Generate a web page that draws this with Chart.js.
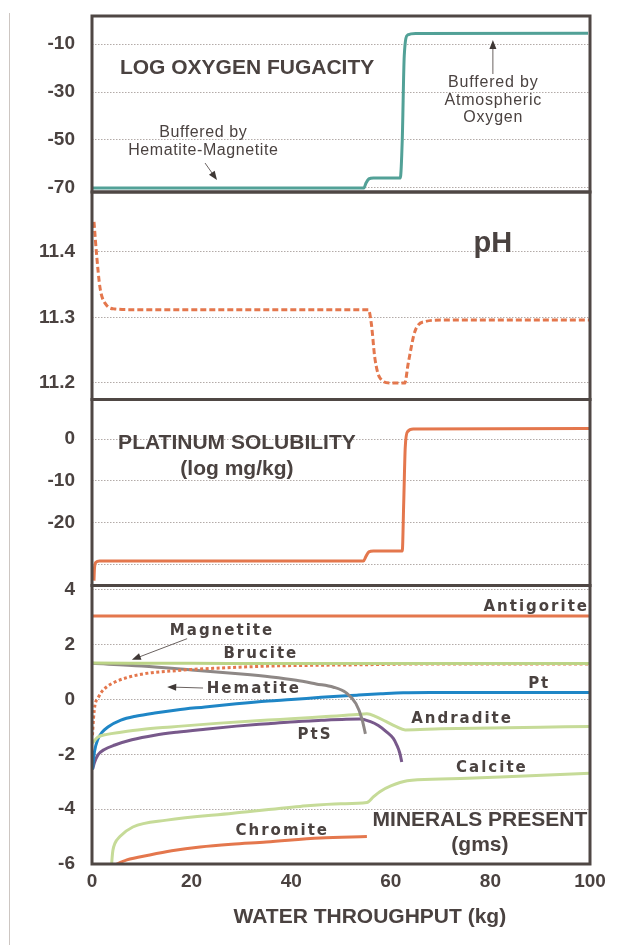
<!DOCTYPE html>
<html><head><meta charset="utf-8">
<script src="https://cdn.jsdelivr.net/npm/chart.js@4.4.1/dist/chart.umd.min.js"></script>
<style>
html,body{margin:0;padding:0;background:#fff;}
#wrap{position:relative;width:620px;height:945px;overflow:hidden;background:#fff;}
#wrap canvas{position:absolute;left:0;top:0;}
#vline{position:absolute;left:9px;top:13px;width:1px;height:932px;background:#cdc6c2;}
</style></head><body>
<div id="wrap"><div id="vline"></div>
<canvas id="c1" width="620" height="945"></canvas>
<canvas id="c2" width="620" height="945"></canvas>
<canvas id="c3" width="620" height="945"></canvas>
<canvas id="c4" width="620" height="945"></canvas>
</div>
<script>
// ---------------- DATA ----------------
const xTicks = [0, 20, 40, 60, 80, 100];

// Panel 1: log oxygen fugacity
const fugTicks = [-70, -50, -30, -10];
const fugX = [0, 54.6, 55.0, 55.6, 56.5, 61.9, 62.3, 62.7, 63.4, 65, 99.6];
const fugY = [-70, -70, -68, -66.2, -65.8, -65.8, -50, -15, -6.2, -5.6, -5.5];

// Panel 2: pH
const phTicks = [11.2, 11.3, 11.4];
const phX = [0.4, 0.9, 1.6, 2.9, 4.6, 8, 55.5, 56.1, 56.8, 57.8, 59.8, 62.8, 63.5, 64.9, 67, 70, 100];
const phY = [11.446, 11.398, 11.346, 11.319, 11.313, 11.312, 11.312, 11.29, 11.238, 11.208, 11.2, 11.2, 11.23, 11.28, 11.294, 11.296, 11.296];

// Panel 3: platinum solubility (log mg/kg)
const ptSolTicks = [-30, -20, -10, 0];
const ptSolX = [0.4, 0.5, 0.8, 1.5, 54.5, 55.0, 55.6, 56.5, 62.3, 62.6, 62.9, 63.4, 64.5, 100];
const ptSolY = [-34, -31, -29.6, -29.3, -29.3, -28.2, -27.1, -26.9, -26.9, -15, -2, 1.8, 2.4, 2.5];

// Panel 4: minerals present (gms)
const minTicks = [-6, -4, -2, 0, 2, 4];
const antigoriteX = [0, 100];
const antigoriteY = [3.05, 3.05];
const bruciteX = [0, 20, 50, 100];
const bruciteY = [1.33, 1.32, 1.31, 1.31];
const hematiteX = [0.1, 0.3, 0.6, 1.2, 1.9, 3, 4.6, 7, 9.3, 12, 15.9, 20, 26, 35.4, 45, 55, 66.5, 80, 100];
const hematiteY = [-1.3, -0.7, -0.2, 0.05, 0.27, 0.47, 0.64, 0.8, 0.9, 0.98, 1.04, 1.1, 1.15, 1.22, 1.25, 1.27, 1.3, 1.3, 1.3];
const magnetiteX = [0, 10, 20, 30, 36, 41, 45, 48.5, 51, 53, 54.2, 54.9];
const magnetiteY = [1.32, 1.22, 1.08, 0.93, 0.82, 0.7, 0.57, 0.45, 0.25, -0.15, -0.7, -1.25];
const ptX = [0.1, 0.5, 1.2, 2, 3.2, 5.8, 9, 12.6, 17, 22.7, 29, 35.4, 40, 46, 53.2, 58, 62.5, 67.9, 80, 100];
const ptY = [-2.55, -1.9, -1.44, -1.2, -1.0, -0.75, -0.6, -0.49, -0.38, -0.27, -0.15, -0.05, 0.0, 0.08, 0.16, 0.21, 0.25, 0.26, 0.26, 0.26];
const andraditeX = [0.1, 1.2, 3, 5.8, 10, 15.9, 25, 35.4, 40, 47, 53.2, 55.2, 57, 59, 61, 62.9, 70, 80, 90, 100];
const andraditeY = [-1.58, -1.37, -1.27, -1.19, -1.09, -1.0, -0.87, -0.75, -0.7, -0.62, -0.55, -0.52, -0.62, -0.8, -0.98, -1.11, -1.07, -1.04, -1.01, -0.98];
const ptsX = [0.1, 0.5, 1.2, 2.5, 4.6, 8, 12.6, 17, 22.7, 29, 35.4, 39.8, 46, 51, 53.8, 55.8, 57.5, 59.2, 60.5, 61.2, 61.8, 62.2];
const ptsY = [-2.55, -2.3, -2.02, -1.82, -1.66, -1.47, -1.3, -1.19, -1.08, -0.97, -0.88, -0.82, -0.76, -0.72, -0.71, -0.8, -0.95, -1.19, -1.42, -1.66, -1.95, -2.28];
const calciteX = [3.95, 4.05, 4.2, 4.6, 5.6, 8.2, 15, 28.3, 41.8, 50, 55.2, 56.5, 57.8, 60, 63.3, 70, 82, 100];
const calciteY = [-6.0, -5.75, -5.5, -5.25, -5.0, -4.65, -4.4, -4.15, -3.9, -3.8, -3.76, -3.55, -3.36, -3.15, -2.96, -2.9, -2.83, -2.69];
const chromiteX = [4.2, 7, 11.6, 16, 21.7, 28, 35, 45.8, 55.2];
const chromiteY = [-6.07, -5.85, -5.67, -5.52, -5.38, -5.28, -5.2, -5.05, -5.0];

// ---------------- STYLE ----------------
const TEXT = '#4a4240';
const FRAME = '#4f4744';
const GRID = '#b3aba8';
const TEAL = '#52a197';
const ORANGE = '#e4774d';
const BLUE = '#1f86c6';
const PURPLE = '#78598b';
const GREY = '#8e8886';
const GREEN = '#c6db98';
const GREEN2 = '#bcd486';
const SANS = '"Liberation Sans", Arial, sans-serif';
const WIDE = '"DejaVu Sans", Verdana, sans-serif';

const pts = (xs, ys) => xs.map((x, i) => ({x: x, y: ys[i]}));
function line(label, xs, ys, color, extra) {
  return Object.assign({
    label: label, data: pts(xs, ys), borderColor: color, backgroundColor: color,
    borderWidth: 3, pointRadius: 0, fill: false, cubicInterpolationMode: 'monotone',
    borderCapStyle: 'butt'
  }, extra || {});
}

const annot = {
  id: 'annot',
  afterDatasetsDraw(chart) {
    const a = chart.chartArea, ctx = chart.ctx;
    ctx.save();
    ctx.strokeStyle = FRAME; ctx.lineWidth = 3;
    ctx.strokeRect(a.left, a.top, a.right - a.left, a.bottom - a.top);
    ctx.restore();
  },
  afterDraw(chart, args, opts) {
    const ctx = chart.ctx, xs = chart.scales.x, ys = chart.scales.y;
    (opts.arrows || []).forEach(ar => {
      const x1 = xs.getPixelForValue(ar[0]), y1 = ys.getPixelForValue(ar[1]);
      const x2 = xs.getPixelForValue(ar[2]), y2 = ys.getPixelForValue(ar[3]);
      const ang = Math.atan2(y2 - y1, x2 - x1), hl = 9, hw = 3.5;
      ctx.save();
      ctx.strokeStyle = '#6a6260'; ctx.fillStyle = '#3f3836'; ctx.lineWidth = 1;
      ctx.beginPath(); ctx.moveTo(x1, y1);
      ctx.lineTo(x2 - Math.cos(ang) * hl * 0.8, y2 - Math.sin(ang) * hl * 0.8); ctx.stroke();
      ctx.beginPath(); ctx.moveTo(x2, y2);
      ctx.lineTo(x2 - Math.cos(ang) * hl - Math.sin(ang) * hw, y2 - Math.sin(ang) * hl + Math.cos(ang) * hw);
      ctx.lineTo(x2 - Math.cos(ang) * hl + Math.sin(ang) * hw, y2 - Math.sin(ang) * hl - Math.cos(ang) * hw);
      ctx.closePath(); ctx.fill();
      ctx.restore();
    });
    (opts.labels || []).forEach(l => {
      ctx.save();
      ctx.font = l.font; ctx.fillStyle = TEXT;
      ctx.textAlign = l.align || 'center'; ctx.textBaseline = 'middle';
      if ('letterSpacing' in ctx) ctx.letterSpacing = (l.ls || 0) + 'px';
      const px = xs.getPixelForValue(l.x);
      const py = l.py !== undefined ? chart.chartArea.bottom + l.py : ys.getPixelForValue(l.y);
      ctx.fillText(l.text, px + (l.ls ? l.ls / 2 : 0), py);
      ctx.restore();
    });
  }
};

function makeChart(id, cfg) {
  const showX = !!cfg.showX;
  const XH = 40;
  return new Chart(document.getElementById(id), {
    type: 'line',
    data: {datasets: cfg.datasets},
    plugins: [annot],
    options: {
      responsive: false, animation: false, devicePixelRatio: 1,
      events: [],
      layout: {padding: {left: 0, right: 30, top: cfg.top, bottom: showX ? 945 - cfg.bottom - XH : 945 - cfg.bottom}},
      plugins: {
        legend: {display: false}, tooltip: {enabled: false}, title: {display: false},
        annot: {labels: cfg.labels, arrows: cfg.arrows}
      },
      scales: {
        x: {
          type: 'linear', min: 0, max: 100, display: showX,
          afterBuildTicks: s => { s.ticks = xTicks.map(v => ({value: v})); },
          afterFit: s => { if (showX) s.height = XH; },
          grid: {display: false, drawTicks: false},
          border: {display: false},
          ticks: {color: TEXT, padding: 6, font: {family: SANS, size: 19, weight: 'bold'}, maxRotation: 0}
        },
        y: {
          type: 'linear', min: cfg.min, max: cfg.max,
          afterBuildTicks: s => { s.ticks = cfg.ticks.map(v => ({value: v})); },
          afterFit: s => { s.width = 92; s.paddingTop = 0; s.paddingBottom = 0; },
          grid: {color: GRID, lineWidth: 1, drawTicks: false},
          border: {display: false, dash: [1.5, 1.5]},
          ticks: {
            color: TEXT, padding: 17, font: {family: SANS, size: 19, weight: 'bold'},
            callback: cfg.fmt
          }
        }
      }
    }
  });
}

const bigFont = 'bold 21px ' + SANS;
const smallFont = '16px ' + SANS;
const minFont = 'bold 15px ' + WIDE;

makeChart('c1', {
  top: 16, bottom: 192, min: -71.67, max: 1.67, ticks: fugTicks,
  fmt: v => String(v),
  datasets: [line('Log oxygen fugacity', fugX, fugY, TEAL)],
  labels: [
    {text: 'LOG OXYGEN FUGACITY', x: 5.6, y: -20, font: bigFont, align: 'left'},
    {text: 'Buffered by', x: 22.3, y: -47.1, font: smallFont, ls: 0.6},
    {text: 'Hematite-Magnetite', x: 22.3, y: -54.6, font: smallFont, ls: 0.6},
    {text: 'Buffered by', x: 80.5, y: -26.25, font: smallFont, ls: 0.8},
    {text: 'Atmospheric', x: 80.5, y: -33.75, font: smallFont, ls: 0.8},
    {text: 'Oxygen', x: 80.5, y: -40.8, font: smallFont, ls: 0.8}
  ],
  arrows: [[22.7, -59.6, 25.1, -66.7], [80.5, -22.5, 80.5, -8.3]]
});

makeChart('c2', {
  top: 192, bottom: 399.5, min: 11.1748, max: 11.4916, ticks: phTicks,
  fmt: v => Number(v).toFixed(1),
  datasets: [line('pH', phX, phY, ORANGE, {borderDash: [6, 3]})],
  labels: [{text: 'pH', x: 80.5, y: 11.412, font: 'bold 29px ' + SANS}]
});

makeChart('c3', {
  top: 399.5, bottom: 585.5, min: -35.16, max: 9.48, ticks: ptSolTicks,
  fmt: v => (v === -30 ? '' : String(v)),
  datasets: [line('Platinum solubility', ptSolX, ptSolY, ORANGE)],
  labels: [
    {text: 'PLATINUM SOLUBILITY', x: 29.1, y: -0.96, font: bigFont},
    {text: '(log mg/kg)', x: 29.1, y: -7.2, font: bigFont}
  ]
});

makeChart('c4', {
  top: 585.5, bottom: 864, min: -6, max: 4.16, ticks: minTicks, showX: true,
  fmt: v => String(v),
  datasets: [
    line('Antigorite', antigoriteX, antigoriteY, ORANGE),
    line('Brucite', bruciteX, bruciteY, GREEN2),
    line('Hematite', hematiteX, hematiteY, ORANGE, {borderDash: [3, 2.5]}),
    line('Magnetite', magnetiteX, magnetiteY, GREY),
    line('Andradite', andraditeX, andraditeY, GREEN),
    line('Pt', ptX, ptY, BLUE),
    line('PtS', ptsX, ptsY, PURPLE),
    line('Calcite', calciteX, calciteY, GREEN),
    line('Chromite', chromiteX, chromiteY, ORANGE)
  ],
  labels: [
    {text: 'Antigorite', x: 89, y: 3.36, font: minFont, ls: 2},
    {text: 'Magnetite', x: 25.9, y: 2.51, font: minFont, ls: 2},
    {text: 'Brucite', x: 33.7, y: 1.67, font: minFont, ls: 2},
    {text: 'Hematite', x: 32.3, y: 0.385, font: minFont, ls: 2},
    {text: 'Pt', x: 89.6, y: 0.57, font: minFont, ls: 2},
    {text: 'Andradite', x: 74.1, y: -0.716, font: minFont, ls: 2},
    {text: 'PtS', x: 44.6, y: -1.3, font: minFont, ls: 2},
    {text: 'Calcite', x: 80.1, y: -2.51, font: minFont, ls: 2},
    {text: 'Chromite', x: 38, y: -4.8, font: minFont, ls: 2},
    {text: 'MINERALS PRESENT', x: 77.9, y: -4.4, font: bigFont},
    {text: '(gms)', x: 77.9, y: -5.31, font: bigFont},
    {text: 'WATER THROUGHPUT (kg)', x: 55.8, py: 53, font: bigFont}
  ],
  arrows: [[19.1, 2.22, 8.0, 1.45], [22.3, 0.42, 15.1, 0.46]]
});
</script>
</body></html>
